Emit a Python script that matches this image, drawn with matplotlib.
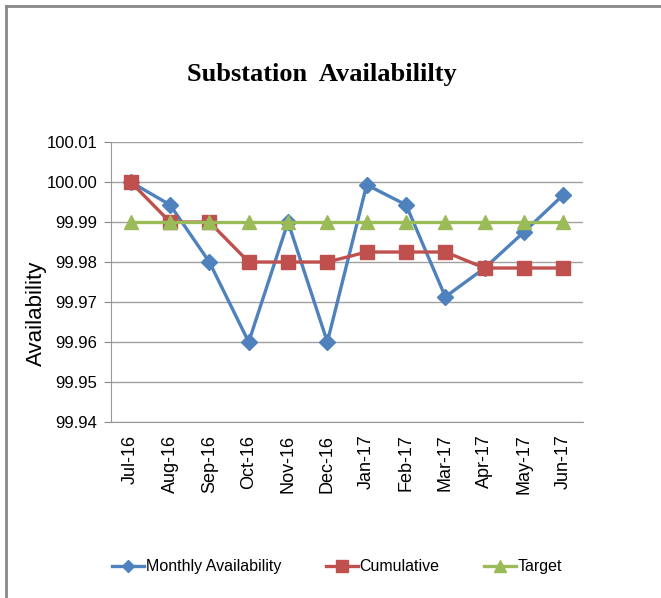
import matplotlib.pyplot as plt
from matplotlib.lines import Line2D

months = ['Jul-16', 'Aug-16', 'Sep-16', 'Oct-16', 'Nov-16', 'Dec-16',
          'Jan-17', 'Feb-17', 'Mar-17', 'Apr-17', 'May-17', 'Jun-17']
monthly = [100.000, 99.9943, 99.980, 99.960, 99.990, 99.960,
           99.9993, 99.9943, 99.9713, 99.9785, 99.9875, 99.9968]
cumulative = [100.000, 99.990, 99.990, 99.980, 99.980, 99.980,
              99.9825, 99.9825, 99.9825, 99.9785, 99.9785, 99.9785]
target = [99.99] * 12
yticks = [99.94, 99.95, 99.96, 99.97, 99.98, 99.99, 100.00, 100.01]

narrow = ['Liberation Sans Narrow', 'Liberation Sans', 'DejaVu Sans']

fig = plt.figure(figsize=(6.61, 5.98), dpi=100)
ax = fig.add_axes([0.168, 0.2943, 0.714, 0.4682])

x = range(len(months))
ax.plot(x, monthly, color='#4F81BD', lw=2.4, marker='D', ms=8, label='Monthly Availability', zorder=3)
ax.plot(x, cumulative, color='#C0504D', lw=2.4, marker='s', ms=10, label='Cumulative', zorder=4)
ax.plot(x, target, color='#9BBB59', lw=2.4, marker='^', ms=10, label='Target', zorder=5)

ax.set_xlim(-0.5, 11.5)
ax.set_ylim(99.94, 100.01)
ax.set_yticks(yticks)
ax.set_yticklabels([f'{v:.2f}' for v in yticks], family=narrow, fontsize=12)
ax.set_xticks(list(x))
ax.set_xticklabels(months, rotation=90, fontsize=13, family='Liberation Sans')
ax.tick_params(axis='x', length=0, pad=9)
ax.tick_params(axis='y', length=5, color='#888888', pad=5)

ax.grid(axis='y', color='#a0a0a0', lw=1)
ax.set_axisbelow(True)
for s in ['top', 'right']:
    ax.spines[s].set_visible(False)
for s in ['left', 'bottom']:
    ax.spines[s].set_color('#999999')

ax.set_ylabel('Availability', fontsize=16, family='Liberation Sans')
ax.yaxis.set_label_coords(-0.136, 0.39)

fig.text(0.487, 0.875, 'Substation  Availabililty', ha='center', va='center',
         family='Liberation Serif', fontweight='bold', fontsize=19)

fig.legend(loc='center', bbox_to_anchor=(0.51, 0.052), ncol=3, frameon=False,
           prop={'family': narrow, 'size': 11.5}, handlelength=2.0,
           columnspacing=2.8, handletextpad=0.1, markerscale=0.8)

# chart frame (top and left edges only visible)
fig.add_artist(Line2D([0.009, 1.0], [0.99, 0.99], color='#888888', lw=2, transform=fig.transFigure))
fig.add_artist(Line2D([0.009, 0.009], [0.0, 0.99], color='#888888', lw=2, transform=fig.transFigure))

fig.savefig('out.png', dpi=100)
